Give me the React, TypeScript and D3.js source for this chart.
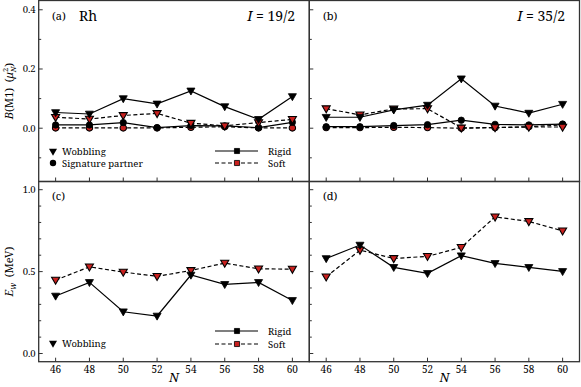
import { useEffect, useRef } from 'react';
import * as d3 from 'd3';

// neutron numbers
const N = [46, 48, 50, 52, 54, 56, 58, 60];

// (a) B(M1), I = 19/2
const aRigidWob = [0.053, 0.048, 0.1, 0.082, 0.126, 0.073, 0.03, 0.107];
const aSoftWob = [0.037, 0.031, 0.043, 0.05, 0.017, 0.008, 0.019, 0.03];
const aRigidSig = [0.011, 0.011, 0.019, 0.002, 0.009, 0.008, 0.002, 0.02];
const aSoftSig = [0.001, 0.001, 0.001, 0.001, 0.003, 0.005, 0.001, 0.001];

// (b) B(M1), I = 35/2
const bRigidWob = [0.037, 0.037, 0.062, 0.078, 0.167, 0.075, 0.051, 0.081];
const bSoftWob = [0.066, 0.045, 0.065, 0.066, 0.001, 0.002, 0.004, 0.004];
const bRigidSig = [0.005, 0.005, 0.009, 0.012, 0.027, 0.013, 0.011, 0.014];
const bSoftSig = [0.002, 0.002, 0.003, 0.002, 0.0, 0.002, 0.005, 0.011];

// (c) E_w, I = 19/2
const cRigid = [0.351, 0.434, 0.255, 0.229, 0.479, 0.422, 0.434, 0.324];
const cSoft = [0.448, 0.529, 0.497, 0.471, 0.507, 0.552, 0.517, 0.515];

// (d) E_w, I = 35/2
const dRigid = [0.58, 0.662, 0.526, 0.489, 0.597, 0.55, 0.526, 0.501];
const dSoft = [0.468, 0.631, 0.58, 0.593, 0.648, 0.834, 0.806, 0.749];

const xTicks = [46, 48, 50, 52, 54, 56, 58, 60];
const bm1Ticks = [0.0, 0.2, 0.4];
const bm1Minor = [-0.1, 0.1, 0.3];
const ewTicks = [0.0, 0.5, 1.0];
const ewMinor = [0.1, 0.2, 0.3, 0.4, 0.6, 0.7, 0.8, 0.9];

const RED = '#c8201e';
const AXIS = '#333333';
const FONT = "'Noto Serif', 'Liberation Serif', serif";

export default function App() {
    const svgRef = useRef<SVGSVGElement | null>(null);

    useEffect(() => {
        if (!svgRef.current) return;
        const svg = d3.select(svgRef.current);
        svg.selectAll('*').remove();

        const left = 38.7, mid = 309.3, right = 579.5;
        const top = 0.5, midY = 181.5, bottom = 361.7;

        const xA = d3.scaleLinear().domain([45, 61]).range([left, mid]);
        const xB = d3.scaleLinear().domain([45, 61]).range([mid, right]);
        const yUp = d3.scaleLinear().domain([-0.18, 0.433]).range([midY, 0]);
        const yLo = d3.scaleLinear().domain([-0.05, 1.05]).range([bottom, midY]);

        const tri = d3.symbol().type(d3.symbolTriangle).size(28);
        const circ = d3.symbol().type(d3.symbolCircle).size(32);
        const sq = d3.symbol().type(d3.symbolSquare).size(26);

        function series(x, y, vals, dashed, marker, fill) {
            const line = d3.line<number>()
                .x((_, i) => x(N[i]))
                .y(v => y(v));
            svg.append('path')
                .attr('d', line(vals))
                .attr('fill', 'none')
                .attr('stroke', 'black')
                .attr('stroke-width', 1.2)
                .attr('stroke-dasharray', dashed ? '4,2.5' : null);
            svg.append('g')
                .selectAll('path')
                .data(vals)
                .join('path')
                .attr('d', marker === 'tri' ? tri() : circ())
                .attr('transform', (v, i) =>
                    `translate(${x(N[i])},${y(v) + (marker === 'tri' ? -0.5 : 0)})` + (marker === 'tri' ? ' rotate(180)' : ''))
                .attr('fill', fill)
                .attr('stroke', 'black')
                .attr('stroke-width', fill === 'black' ? 0.8 : 1.1);
        }

        function frame(x, y, x0, x1, y0, y1, major, minor, showY, showX) {
            const g = svg.append('g');
            g.append('rect')
                .attr('x', x0).attr('y', y0)
                .attr('width', x1 - x0).attr('height', y1 - y0)
                .attr('fill', 'none').attr('stroke', AXIS).attr('stroke-width', 1.3);
            major.forEach(t => {
                g.append('line').attr('x1', x0).attr('x2', x0 + 4)
                    .attr('y1', y(t)).attr('y2', y(t)).attr('stroke', AXIS);
                if (showY) {
                    g.append('text').attr('x', x0 - 3).attr('y', y(t) + 3.5)
                        .attr('text-anchor', 'end').attr('font-size', 9.5)
                        .attr('font-family', FONT).text(d3.format('.1f')(t));
                }
            });
            minor.forEach(t => {
                g.append('line').attr('x1', x0).attr('x2', x0 + 2.5)
                    .attr('y1', y(t)).attr('y2', y(t)).attr('stroke', AXIS);
            });
            xTicks.forEach(t => {
                g.append('line').attr('x1', x(t)).attr('x2', x(t))
                    .attr('y1', y1).attr('y2', y1 - 4).attr('stroke', AXIS);
                if (showX) {
                    g.append('text').attr('x', x(t)).attr('y', y1 + 11)
                        .attr('text-anchor', 'middle').attr('font-size', 10)
                        .attr('font-family', FONT).text(t);
                }
            });
        }

        // panels
        frame(xA, yUp, left, mid, top, midY, bm1Ticks, bm1Minor, true, false);
        frame(xB, yUp, mid, right, top, midY, bm1Ticks, bm1Minor, false, false);
        frame(xA, yLo, left, mid, midY, bottom, ewTicks, ewMinor, true, true);
        frame(xB, yLo, mid, right, midY, bottom, ewTicks, ewMinor, false, true);

        // (a)
        series(xA, yUp, aSoftSig, true, 'circ', RED);
        series(xA, yUp, aRigidSig, false, 'circ', 'black');
        series(xA, yUp, aSoftWob, true, 'tri', RED);
        series(xA, yUp, aRigidWob, false, 'tri', 'black');
        // (b)
        series(xB, yUp, bSoftSig, true, 'circ', RED);
        series(xB, yUp, bRigidSig, false, 'circ', 'black');
        series(xB, yUp, bSoftWob, true, 'tri', RED);
        series(xB, yUp, bRigidWob, false, 'tri', 'black');
        // (c)
        series(xA, yLo, cSoft, true, 'tri', RED);
        series(xA, yLo, cRigid, false, 'tri', 'black');
        // (d)
        series(xB, yLo, dSoft, true, 'tri', RED);
        series(xB, yLo, dRigid, false, 'tri', 'black');

        const txt = (x, y, s, size, anchor = 'start', italic = false) =>
            svg.append('text').attr('x', x).attr('y', y)
                .attr('font-family', FONT).attr('font-size', size)
                .attr('text-anchor', anchor)
                .attr('font-style', italic ? 'italic' : null)
                .text(s);

        // panel labels
        txt(52, 20, '(a)', 11);
        txt(79, 21, 'Rh', 14);
        txt(323, 20, '(b)', 11);
        txt(52, 200, '(c)', 11);
        txt(323, 200, '(d)', 11);

        const spin = (xr, s) => {
            const t = svg.append('text').attr('x', xr).attr('y', 21)
                .attr('font-family', FONT).attr('font-size', 14)
                .attr('text-anchor', 'end');
            t.append('tspan').attr('font-style', 'italic').text('I');
            t.append('tspan').text(' = ' + s);
        };
        spin(295, '19/2');
        spin(565, '35/2');

        // legends
        function markerLegend(x, y, kind, label) {
            svg.append('path')
                .attr('d', kind === 'tri' ? tri() : circ())
                .attr('transform', `translate(${x},${y})` + (kind === 'tri' ? ' rotate(180)' : ''))
                .attr('fill', 'black');
            txt(x + 9, y + 3.5, label, 9.5);
        }
        function lineLegend(y, dashed, fill, label, x0) {
            svg.append('line').attr('x1', x0).attr('x2', x0 + 43)
                .attr('y1', y).attr('y2', y)
                .attr('stroke', 'black').attr('stroke-width', 1.2)
                .attr('stroke-dasharray', dashed ? '4,2.5' : null);
            svg.append('path').attr('d', sq())
                .attr('transform', `translate(${x0 + 22},${y})`)
                .attr('fill', fill).attr('stroke', 'black').attr('stroke-width', 0.8);
            txt(x0 + 53, y + 3.5, label, 9.5);
        }
        markerLegend(53, 151, 'tri', 'Wobbling');
        markerLegend(53, 163, 'circ', 'Signature partner');
        lineLegend(151, false, 'black', 'Rigid', 215);
        lineLegend(163, true, RED, 'Soft', 215);

        markerLegend(53, 343, 'tri', 'Wobbling');
        lineLegend(331, false, 'black', 'Rigid', 215);
        lineLegend(344, true, RED, 'Soft', 215);

        // axis titles
        const yl1 = svg.append('text')
            .attr('transform', `translate(13,${(top + midY) / 2}) rotate(-90)`)
            .attr('text-anchor', 'middle').attr('font-family', FONT).attr('font-size', 11);
        yl1.append('tspan').attr('font-style', 'italic').text('B');
        yl1.append('tspan').text('(M1)\u00a0\u00a0(');
        yl1.append('tspan').attr('font-style', 'italic').text('μ');
        yl1.append('tspan').attr('font-size', 7.5).attr('dy', -5).text('2');
        yl1.append('tspan').attr('font-style', 'italic').attr('font-size', 7.5)
            .attr('dx', -4.5).attr('dy', 8).text('N');
        yl1.append('tspan').attr('dy', -3).text(')');

        const yl2 = svg.append('text')
            .attr('transform', `translate(13,${(midY + bottom) / 2}) rotate(-90)`)
            .attr('text-anchor', 'middle').attr('font-family', FONT).attr('font-size', 11);
        yl2.append('tspan').attr('font-style', 'italic').text('E');
        yl2.append('tspan').attr('font-style', 'italic').attr('font-size', 8).attr('dy', 3).text('w');
        yl2.append('tspan').attr('dy', -3).text('\u00a0\u00a0(MeV)');

        txt((left + mid) / 2, 382, 'N', 13, 'middle', true);
        txt((mid + right) / 2, 382, 'N', 13, 'middle', true);
    }, []);

    return (
        <svg ref={svgRef} width={581} height={387}
            style={{ position: 'absolute', left: 0, top: 0, background: 'white' }} />
    );
}
